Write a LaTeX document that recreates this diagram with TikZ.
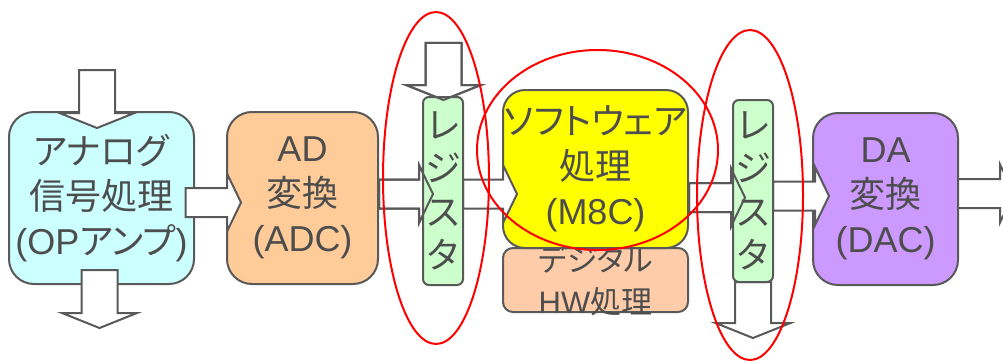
\documentclass[tikz,border=0pt]{standalone}
\usepackage{fontspec}
\setmainfont{Liberation Sans}
\newfontfamily\jk{Noto Sans CJK JP}
\newfontfamily\jp[RawFeature=+palt]{Noto Sans CJK JP}
\usetikzlibrary{calc}
\definecolor{textgray}{HTML}{4D4D4D}
\definecolor{linegray}{HTML}{595959}
\definecolor{cyanfill}{HTML}{CCFFFF}
\definecolor{orangefill}{HTML}{FFCC99}
\definecolor{greenfill}{HTML}{CCFFCC}
\definecolor{yellowfill}{HTML}{FFFF00}
\definecolor{salmonfill}{HTML}{FFCCAA}
\definecolor{purplefill}{HTML}{CC99FF}
% horizontal block arrow: #2 start, #3 tip (to the right)
\newcommand\HArrow[3][blockarrow]{%
  \path[#1] ($(#2)+(0,-14.5)$) -- ($(#3)+(-14,-14.5)$) -- ($(#3)+(-14,-29)$) -- (#3)
    -- ($(#3)+(-14,29)$) -- ($(#3)+(-14,14.5)$) -- ($(#2)+(0,14.5)$) -- cycle;}
% vertical block arrow: #2 start, #3 tip (downwards)
\newcommand\VArrow[3][blockarrow]{%
  \path[#1] ($(#2)+(-18,0)$) -- ($(#3)+(-18,-15)$) -- ($(#3)+(-37.5,-15)$) -- (#3)
    -- ($(#3)+(37.5,-15)$) -- ($(#3)+(18,-15)$) -- ($(#2)+(18,0)$) -- cycle;}
\begin{document}
\begin{tikzpicture}[x=1pt,y=-1pt,
  box/.style={rectangle, draw=linegray, line width=2pt, text=textgray, align=center,
    inner sep=0pt, font=\fontsize{36}{45}\selectfont},
  regbox/.style={box, fill=greenfill, minimum width=40pt, rounded corners=6pt,
    font=\fontsize{36}{43.5}\selectfont},
  txt/.style={text=textgray, align=center, inner sep=0pt},
  blockarrow/.style={draw=linegray, fill=white, line width=2pt, line join=miter},
  arrowline/.style={draw=linegray, line width=2pt, line join=miter},
  ring/.style={draw=red, line width=2pt}]
\useasboundingbox (0,0) rectangle (1003,361);

% main boxes
\node[box, fill=cyanfill, minimum width=185pt, minimum height=172pt, rounded corners=25pt]
  (b1) at (101.5,198) {{\jp アナログ}\\{\jk 信号処理}\\(OP{\jp アンプ})};
\node[box, fill=orangefill, minimum width=151pt, minimum height=172pt, rounded corners=25pt]
  (b2) at (302.5,198) {AD\\{\jk 変換}\\(ADC)};
\node[box, fill=salmonfill, minimum width=185pt, minimum height=64pt, rounded corners=10pt]
  (hw) at (595.5,280) {};
\node[txt, font=\fontsize{31}{42}\selectfont] (hwt) at (595.5,281) {{\jp デジタル}\\HW{\jk 処理}};
\node[box, fill=yellowfill, minimum width=185pt, minimum height=158pt, rounded corners=22pt]
  (sw) at (595.5,169) {{\jp ソフトウェア}\\{\jk 処理}\\(M8C)};
\node[box, fill=purplefill, minimum width=145pt, minimum height=172pt, rounded corners=25pt]
  (da) at (885.5,199) {DA\\{\jk 変換}\\(DAC)};

% arrow end points
\coordinate (in1) at (97,70);
\path (b1.north) ++(-4.5,17) coordinate (t1);
\path (b1.south) ++(-2,-15) coordinate (s2);
\coordinate (out1) at (99.5,328);
\path (b1.east) ++(-9.5,4.5) coordinate (s3);
\path (b2.west) ++(15,4.5) coordinate (t3);
\path (b2.east) ++(0,-4) coordinate (s4);
\path (sw.west) ++(15,25) coordinate (t5);
\path (sw.east) ++(0,28.5) coordinate (s6);
\path (da.west) ++(17,-3) coordinate (t7);
\path (da.east) ++(-1,-5.5) coordinate (s8);
\coordinate (out3) at (1014,193.5);
\coordinate (in2) at (443.5,43);
\coordinate (out2) at (753,338);

% registers (positions)
\coordinate (r1c) at (443,191);
\coordinate (r2c) at (753,191);
\path (r1c) ++(-20,0) ++(10,3) coordinate (t4);
\path (r1c) ++(20,3) coordinate (s5);
\path (r2c) ++(-20,6.5) ++(12,0) coordinate (t6);
\path (r2c) ++(20,5) coordinate (s7);
\path (r1c) ++(0.5,-91) coordinate (t9);
\path (r2c) ++(0,91) coordinate (s10);

% block arrows
\VArrow{in1}{t1}
\VArrow{s2}{out1}
\HArrow{s3}{t3}
\HArrow{s4}{t4}
\HArrow{s5}{t5}
\HArrow{s6}{t6}
\HArrow{s7}{t7}
\HArrow{s8}{out3}
\VArrow{in2}{t9}
\VArrow{s10}{out2}

% registers
\node[regbox, minimum height=188pt] (r1) at (r1c) {{\jk レ}\\{\jk ジ}\\{\jk ス}\\{\jk タ}};
\node[regbox, minimum height=182pt] (r2) at (r2c) {{\jk レ}\\{\jk ジ}\\{\jk ス}\\{\jk タ}};
\HArrow[arrowline]{s4}{t4}
\HArrow[arrowline]{s6}{t6}
\VArrow[arrowline]{in2}{t9}

% red rings
\draw[ring] (436,178) ellipse[x radius=53pt, y radius=166pt];
\draw[ring] (597.5,150) ellipse[x radius=120.5pt, y radius=100pt];
\draw[ring] (750,195) ellipse[x radius=53pt, y radius=165pt];
\end{tikzpicture}
\end{document}
